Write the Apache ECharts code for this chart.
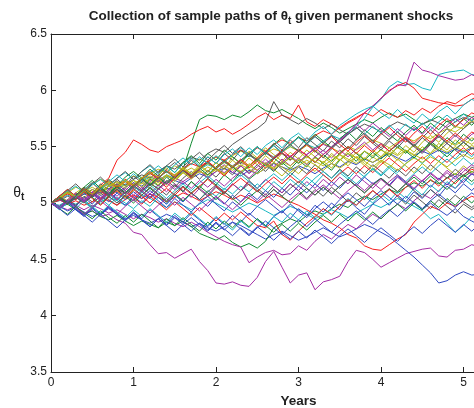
<!DOCTYPE html>
<html>
<head>
<meta charset="utf-8">
<script src="https://cdn.jsdelivr.net/npm/echarts@6/dist/echarts.min.js"></script>
<style>
  html, body { margin: 0; padding: 0; background: #fff; }
  #chart { width: 474px; height: 408px; }
</style>
</head>
<body>
<div id="chart"></div>
<script>
// time grid (years)
const years = [0,0.1,0.2,0.3,0.4,0.5,0.6,0.7,0.8,0.9,
  1.0,1.1,1.2,1.3,1.4,1.5,1.6,1.7,1.8,1.9,
  2.0,2.1,2.2,2.3,2.4,2.5,2.6,2.7,2.8,2.9,
  3.0,3.1,3.2,3.3,3.4,3.5,3.6,3.7,3.8,3.9,
  4.0,4.1,4.2,4.3,4.4,4.5,4.6,4.7,4.8,4.9,
  5.0,5.1,5.2]
const yTicks = [3.5,4,4.5,5,5.5,6,6.5]

// sample paths of theta
const p01 = [5.00,5.03,4.99,5.04,5.08,5.05,5.10,5.13,5.09,5.14, 5.18,5.15,5.21,5.19,5.24,5.20,5.17,5.22,5.26,5.23, 5.28,5.31,5.27,5.24,5.29,5.26,5.31,5.35,5.32,5.29, 5.33,5.30,5.26,5.31,5.35,5.32,5.37,5.34,5.39,5.36, 5.40,5.44,5.40,5.37,5.42,5.46,5.43,5.47,5.44,5.48, 5.45,5.49,5.46]
const p02 = [5.00,4.97,5.02,5.05,5.01,5.06,5.10,5.07,5.12,5.09, 5.14,5.11,5.17,5.13,5.19,5.24,5.30,5.53,5.74,5.78, 5.77,5.74,5.78,5.76,5.81,5.87,5.82,5.80,5.83,5.79, 5.75,5.70,5.66,5.71,5.67,5.62,5.66,5.70,5.74,5.71, 5.76,5.80,5.76,5.79,5.74,5.70,5.73,5.77,5.72,5.75, 5.79,5.76,5.80]
const p03 = [5.00,5.04,5.01,5.07,5.12,5.09,5.16,5.22,5.38,5.45, 5.56,5.52,5.47,5.45,5.50,5.53,5.56,5.61,5.65,5.68, 5.63,5.66,5.61,5.65,5.70,5.76,5.80,5.74,5.78,5.75, 5.87,5.72,5.68,5.74,5.70,5.66,5.71,5.75,5.80,5.77, 5.83,5.79,5.76,5.82,5.78,5.84,5.80,5.86,5.90,5.88, 5.93,5.97,5.95]
const p04 = [5.00,5.03,5.07,5.04,5.09,5.06,5.11,5.15,5.12,5.17, 5.14,5.19,5.23,5.20,5.25,5.22,5.28,5.25,5.30,5.34, 5.31,5.36,5.33,5.38,5.42,5.39,5.44,5.41,5.46,5.50, 5.47,5.52,5.49,5.55,5.60,5.57,5.63,5.68,5.75,5.85, 5.92,6.03,6.08,6.05,6.06,6.02,6.00,6.14,6.16,6.17, 6.18,6.14,6.13]
const p05 = [5.00,4.97,4.94,4.97,4.91,4.93,4.88,4.90,4.85,4.82, 4.74,4.72,4.63,4.55,4.56,4.51,4.55,4.59,4.48,4.40, 4.29,4.28,4.30,4.27,4.26,4.34,4.48,4.57,4.43,4.29, 4.36,4.38,4.23,4.30,4.32,4.35,4.48,4.58,4.56,4.50, 4.43,4.47,4.51,4.55,4.57,4.59,4.60,4.53,4.52,4.58, 4.59,4.63,4.61]
const p06 = [5.00,5.05,5.09,5.14,5.11,5.17,5.21,5.18,5.15,5.20, 5.24,5.21,5.26,5.30,5.27,5.33,5.29,5.35,5.39,5.36, 5.41,5.37,5.42,5.46,5.43,5.39,5.44,5.48,5.45,5.50, 5.46,5.51,5.48,5.53,5.49,5.45,5.50,5.47,5.52,5.56, 5.53,5.49,5.54,5.58,5.55,5.60,5.57,5.62,5.66,5.63, 5.68,5.72,5.75]
const p07 = [5.00,5.02,5.06,5.03,5.08,5.12,5.09,5.15,5.19,5.16, 5.21,5.25,5.22,5.28,5.33,5.30,5.36,5.41,5.38,5.44, 5.48,5.45,5.52,5.57,5.62,5.66,5.72,5.90,5.78,5.74, 5.70,5.75,5.71,5.66,5.70,5.65,5.61,5.66,5.70,5.67, 5.63,5.68,5.72,5.69,5.65,5.70,5.74,5.71,5.67,5.72, 5.76,5.73,5.78]
const p08 = [5.00,4.97,4.93,4.96,4.92,4.88,4.91,4.95,4.90,4.86, 4.89,4.85,4.82,4.86,4.90,4.87,4.83,4.79,4.82,4.78, 4.75,4.79,4.83,4.80,4.76,4.72,4.68,4.72,4.75,4.71, 4.67,4.70,4.74,4.78,4.74,4.70,4.73,4.77,4.81,4.78, 4.74,4.70,4.64,4.58,4.52,4.45,4.38,4.29,4.31,4.36, 4.39,4.36,4.37]
const p09 = [5.00,4.96,4.99,4.94,4.90,4.93,4.88,4.85,4.89,4.84, 4.80,4.84,4.81,4.78,4.83,4.80,4.84,4.79,4.73,4.70, 4.67,4.71,4.65,4.61,4.64,4.60,4.66,4.78,4.82,4.86, 4.83,4.89,4.93,4.90,4.95,4.99,4.96,5.02,5.06,5.03, 5.08,5.12,5.09,5.14,5.18,5.15,5.20,5.17,5.22,5.26, 5.23,5.28,5.25]
const p10 = [5.00,5.04,5.08,5.05,5.10,5.07,5.13,5.17,5.14,5.19, 5.16,5.22,5.26,5.23,5.28,5.25,5.31,5.35,5.32,5.37, 5.41,5.38,5.43,5.47,5.44,5.49,5.46,5.52,5.56,5.53, 5.58,5.55,5.60,5.64,5.61,5.67,5.72,5.76,5.80,5.86, 5.93,6.00,6.04,6.07,6.02,5.93,5.91,5.89,5.88,5.86, 5.87,5.92,5.96]
const p11 = [5.00,4.98,5.02,4.99,5.03,4.97,5.01,5.05,5.02,4.98, 5.03,5.07,5.04,5.00,4.96,5.01,4.98,4.94,4.99,5.03, 5.00,4.96,4.92,4.96,5.00,4.97,4.93,4.89,4.93,4.97, 4.94,4.90,4.86,4.90,4.94,4.91,4.87,4.91,4.95,4.99, 4.96,5.00,5.04,5.01,4.97,4.93,4.86,4.90,4.82,4.74, 4.80,4.88,4.84]
const p12 = [5.00,4.97,5.01,4.98,4.94,4.98,4.95,4.91,4.94,4.90, 4.86,4.90,4.87,4.83,4.86,4.82,4.79,4.83,4.79,4.74, 4.70,4.66,4.63,4.61,4.47,4.52,4.56,4.58,4.54,4.55, 4.62,4.58,4.66,4.72,4.68,4.75,4.81,4.77,4.84,4.90, 4.86,4.93,4.99,4.95,5.02,5.08,5.04,5.11,5.17,5.13, 5.20,5.26,5.22]
const p13 = [5.00,5.06,5.02,5.09,5.04,5.12,5.07,5.15,5.10,5.04, 5.11,5.18,5.13,5.22,5.16,5.25,5.31,5.24,5.33,5.27, 5.36,5.30,5.41,5.35,5.46,5.40,5.49,5.43,5.37,5.45, 5.39,5.47,5.41,5.35,5.44,5.38,5.46,5.40,5.33,5.41, 5.36,5.44,5.38,5.47,5.42,5.50,5.44,5.53,5.47,5.56, 5.50,5.58,5.53]
const p14 = [5.00,4.96,5.03,4.98,5.06,5.01,5.09,5.03,4.98,5.07, 5.02,5.10,5.04,5.13,5.07,5.16,5.10,5.19,5.12,5.06, 5.14,5.08,5.17,5.11,5.20,5.13,5.07,5.15,5.09,5.17, 5.11,5.04,5.12,5.06,5.14,5.08,5.01,5.09,5.03,5.11, 5.05,5.13,5.06,4.99,5.07,5.01,4.95,5.03,4.97,4.91, 4.99,4.94,5.00]
const p15 = [5.00,4.95,5.01,4.94,4.89,4.96,4.90,4.97,4.91,4.85, 4.92,4.86,4.94,4.88,4.81,4.89,4.83,4.91,4.85,4.79, 4.87,4.81,4.89,4.83,4.91,4.85,4.79,4.88,4.93,4.86, 4.95,4.89,4.98,4.92,5.00,4.94,5.03,4.96,4.90,4.99, 5.05,4.98,5.07,5.01,5.10,5.04,5.12,5.06,5.15,5.09, 5.17,5.11,5.19]
const p16 = [5.00,5.05,5.00,5.07,5.12,5.06,5.14,5.08,5.17,5.11, 5.18,5.12,5.21,5.15,5.23,5.17,5.10,5.19,5.13,5.22, 5.16,5.25,5.19,5.28,5.21,5.27,5.34,5.28,5.36,5.30, 5.38,5.32,5.41,5.35,5.29,5.38,5.44,5.37,5.46,5.40, 5.48,5.41,5.50,5.44,5.52,5.46,5.55,5.49,5.58,5.52, 5.61,5.55,5.63]
const p17 = [5.00,5.03,4.99,5.02,4.98,5.01,5.05,5.02,4.98,5.03, 5.07,5.04,5.08,5.05,5.01,5.05,5.09,5.06,5.02,5.06, 5.10,5.07,5.03,5.07,5.04,5.00,5.04,5.08,5.05,5.01, 4.98,4.94,4.90,4.85,4.82,4.78,4.72,4.69,4.62,4.59, 4.58,4.63,4.68,4.72,4.83,4.90,4.97,4.94,5.00,4.97, 5.02,5.06,5.03]
const p18 = [5.00,4.95,5.01,4.96,4.90,4.97,4.91,4.98,4.92,4.87, 4.94,4.88,4.95,4.89,4.83,4.91,4.85,4.92,4.86,4.80, 4.88,4.82,4.76,4.84,4.78,4.86,4.80,4.88,4.83,4.91, 4.85,4.93,4.87,4.95,4.89,4.97,5.04,4.98,5.06,5.00, 5.08,5.02,5.10,5.04,5.13,5.07,5.16,5.10,5.19,5.13, 5.22,5.16,5.25]
const p19 = [5.00,5.03,5.00,5.05,5.02,5.06,5.10,5.07,5.12,5.09, 5.14,5.11,5.16,5.20,5.17,5.22,5.19,5.24,5.28,5.25, 5.30,5.27,5.32,5.36,5.33,5.38,5.35,5.40,5.44,5.41, 5.46,5.43,5.48,5.52,5.49,5.55,5.62,5.70,5.80,5.86, 5.93,5.99,6.05,6.04,6.25,6.18,6.16,6.13,6.11,6.09, 6.10,6.14,6.10]
const p20 = [5.00,5.06,5.01,5.09,5.14,5.08,5.16,5.10,5.18,5.13, 5.20,5.14,5.22,5.16,5.25,5.19,5.27,5.21,5.29,5.23, 5.31,5.25,5.33,5.27,5.35,5.29,5.36,5.30,5.24,5.32, 5.26,5.34,5.28,5.37,5.31,5.39,5.33,5.41,5.35,5.29, 5.37,5.31,5.39,5.33,5.27,5.35,5.29,5.37,5.31,5.25, 5.33,5.27,5.34]
const p21 = [5.00,5.05,5.11,5.06,5.14,5.08,5.17,5.12,5.21,5.15, 5.24,5.18,5.27,5.21,5.30,5.36,5.29,5.38,5.32,5.41, 5.35,5.44,5.38,5.47,5.41,5.50,5.44,5.53,5.47,5.56, 5.49,5.58,5.52,5.46,5.55,5.49,5.57,5.51,5.59,5.53, 5.47,5.55,5.49,5.57,5.50,5.44,5.52,5.46,5.53,5.47, 5.41,5.49,5.44]
const p22 = [5.00,5.05,4.99,5.07,5.01,5.09,5.03,5.10,5.04,4.98, 5.06,5.00,5.08,5.02,4.96,5.04,4.98,4.92,5.00,5.06, 4.99,4.93,5.01,4.95,4.89,4.97,5.03,4.97,4.91,4.99, 4.93,4.87,4.95,5.01,4.95,5.03,5.09,5.03,4.97,5.05, 5.11,5.05,4.99,5.06,5.00,4.94,5.00,4.94,4.89,4.95, 4.88,4.84,4.80]
const p23 = [5.00,5.06,5.12,5.06,5.14,5.20,5.13,5.21,5.15,5.23, 5.28,5.22,5.30,5.24,5.33,5.27,5.36,5.42,5.35,5.44, 5.38,5.47,5.41,5.35,5.44,5.50,5.43,5.52,5.58,5.51, 5.59,5.53,5.61,5.55,5.49,5.57,5.63,5.56,5.65,5.59, 5.67,5.61,5.55,5.63,5.69,5.62,5.71,5.65,5.73,5.67, 5.75,5.69,5.77]
const p24 = [5.00,4.95,5.01,5.07,5.01,4.96,5.03,5.09,5.03,5.10, 5.05,4.99,5.06,5.00,4.94,5.01,4.95,4.89,4.96,4.90, 4.84,4.91,4.85,4.92,4.86,4.80,4.78,4.84,4.72,4.67, 4.75,4.82,4.88,4.95,4.90,4.97,5.03,4.98,5.05,5.11, 5.05,5.12,5.06,5.14,5.20,5.13,5.21,5.15,5.23,5.17, 5.25,5.30,5.27]
const p25 = [5.00,4.94,5.00,4.95,5.02,4.96,5.04,4.98,5.05,5.00, 4.95,5.02,4.97,5.05,4.99,5.07,5.01,5.09,5.03,5.11, 5.06,5.13,5.08,5.15,5.10,5.17,5.11,5.19,5.13,5.21, 5.15,5.23,5.17,5.25,5.19,5.27,5.21,5.29,5.23,5.31, 5.25,5.33,5.27,5.35,5.41,5.35,5.43,5.37,5.45,5.39, 5.47,5.41,5.50]
const p26 = [5.00,5.06,5.01,5.08,5.02,5.10,5.04,5.12,5.06,5.13, 5.07,5.14,5.08,5.16,5.10,5.17,5.11,5.05,5.13,5.07, 5.15,5.09,5.17,5.11,5.19,5.13,5.21,5.15,5.09,5.17, 5.11,5.19,5.13,5.21,5.15,5.23,5.17,5.25,5.19,5.13, 5.21,5.15,5.23,5.17,5.25,5.19,5.27,5.21,5.29,5.23, 5.31,5.25,5.33]
const p27 = [5.00,5.05,5.11,5.05,5.12,5.18,5.11,5.19,5.13,5.21, 5.15,5.23,5.17,5.25,5.31,5.24,5.32,5.26,5.34,5.28, 5.36,5.30,5.38,5.32,5.40,5.34,5.42,5.36,5.44,5.38, 5.46,5.40,5.47,5.41,5.35,5.43,5.37,5.45,5.39,5.47, 5.41,5.49,5.43,5.51,5.45,5.54,5.60,5.54,5.62,5.68, 5.66,5.74,5.79]
const p28 = [5.00,5.04,5.10,5.04,5.11,5.05,5.13,5.07,5.15,5.09, 5.16,5.10,5.18,5.12,5.20,5.14,5.22,5.28,5.21,5.29, 5.23,5.31,5.25,5.33,5.27,5.34,5.28,5.36,5.30,5.24, 5.32,5.26,5.34,5.28,5.22,5.30,5.24,5.32,5.26,5.34, 5.28,5.22,5.30,5.24,5.32,5.26,5.34,5.28,5.22,5.30, 5.24,5.32,5.28]
const p29 = [5.00,4.96,5.02,4.97,5.05,4.99,5.07,5.01,5.09,5.03, 5.10,5.04,5.11,5.05,4.99,5.07,5.01,5.09,5.03,4.97, 5.05,4.99,5.07,5.01,5.09,5.03,5.11,5.05,5.13,5.07, 5.15,5.09,5.17,5.11,5.19,5.13,5.21,5.15,5.23,5.17, 5.22,5.16,5.24,5.18,5.12,5.20,5.14,5.22,5.16,5.24, 5.18,5.26,5.21]
const p30 = [5.00,4.95,4.90,4.97,4.91,4.86,4.93,4.87,4.82,4.89, 4.83,4.90,4.84,4.78,4.86,4.80,4.87,4.81,4.75,4.83, 4.77,4.84,4.78,4.85,4.79,4.86,4.80,4.74,4.81,4.75, 4.82,4.76,4.83,4.89,4.83,4.90,4.84,4.91,4.85,4.92, 4.86,4.93,4.99,4.93,5.00,4.94,5.02,4.96,5.04,4.98, 5.06,5.00,5.08]
const p31 = [5.00,5.05,5.11,5.05,5.12,5.18,5.11,5.05,5.13,5.19, 5.13,5.21,5.27,5.20,5.14,5.22,5.29,5.22,5.30,5.37, 5.30,5.24,5.32,5.38,5.31,5.37,5.31,5.39,5.45,5.38, 5.46,5.52,5.45,5.53,5.59,5.52,5.46,5.54,5.60,5.53, 5.61,5.67,5.60,5.54,5.62,5.68,5.61,5.69,5.75,5.68, 5.74,5.80,5.77]
const p32 = [5.00,5.04,5.10,5.15,5.09,5.16,5.21,5.15,5.22,5.27, 5.21,5.28,5.33,5.26,5.33,5.27,5.35,5.40,5.33,5.41, 5.35,5.43,5.48,5.41,5.49,5.43,5.51,5.56,5.49,5.57, 5.62,5.55,5.63,5.68,5.61,5.69,5.74,5.79,5.83,5.86, 5.80,5.75,5.83,5.76,5.71,5.79,5.73,5.81,5.86,5.79, 5.87,5.92,5.89]
const p33 = [5.00,4.96,5.03,5.09,5.03,5.10,5.04,5.12,5.17,5.11, 5.18,5.12,5.19,5.25,5.18,5.24,5.30,5.23,5.29,5.22, 5.28,5.34,5.27,5.33,5.26,5.32,5.39,5.32,5.39,5.33, 5.40,5.34,5.41,5.47,5.40,5.47,5.41,5.48,5.54,5.47, 5.53,5.46,5.52,5.58,5.51,5.45,5.53,5.60,5.53,5.60, 5.54,5.61,5.64]
const p34 = [5.00,5.04,5.09,5.05,5.10,5.14,5.10,5.15,5.19,5.15, 5.20,5.17,5.22,5.18,5.24,5.21,5.27,5.23,5.28,5.25, 5.30,5.26,5.32,5.28,5.33,5.29,5.35,5.31,5.37,5.33, 5.39,5.35,5.40,5.36,5.42,5.38,5.44,5.40,5.46,5.42, 5.47,5.43,5.49,5.45,5.51,5.47,5.53,5.49,5.55,5.51, 5.56,5.52,5.58]
const p35 = [5.00,5.05,5.11,5.17,5.10,5.17,5.23,5.16,5.22,5.28, 5.21,5.28,5.34,5.27,5.33,5.39,5.32,5.39,5.45,5.38, 5.45,5.51,5.44,5.50,5.43,5.37,5.45,5.51,5.44,5.38, 5.46,5.53,5.46,5.40,5.48,5.55,5.48,5.56,5.62,5.55, 5.49,5.57,5.63,5.56,5.50,5.58,5.65,5.58,5.66,5.59, 5.66,5.72,5.68]
const p36 = [5.00,4.95,4.89,4.95,4.89,4.83,4.90,4.84,4.78,4.85, 4.91,4.85,4.79,4.86,4.80,4.74,4.81,4.87,4.81,4.75, 4.82,4.76,4.83,4.77,4.71,4.78,4.84,4.78,4.72,4.79, 4.85,4.79,4.86,4.80,4.74,4.81,4.87,4.93,4.87,4.81, 4.88,4.94,4.88,4.95,5.01,4.95,5.02,5.08,5.02,4.96, 5.03,5.09,5.04]
const p37 = [5.00,5.05,4.99,5.05,5.11,5.05,4.99,5.06,5.12,5.06, 5.00,5.07,5.13,5.07,5.01,5.08,5.02,5.09,5.15,5.09, 5.03,5.10,5.04,4.98,5.05,5.11,5.05,5.12,5.06,5.00, 5.07,5.13,5.07,5.14,5.08,5.15,5.21,5.15,5.09,5.16, 5.22,5.16,5.10,5.17,5.23,5.17,5.24,5.18,5.12,5.19, 5.25,5.19,5.26]
const p38 = [5.00,5.03,5.09,5.03,5.10,5.04,4.98,5.05,5.11,5.05, 5.12,5.06,5.00,5.07,5.13,5.07,5.14,5.08,5.15,5.21, 5.15,5.09,5.16,5.22,5.16,5.10,5.17,5.23,5.17,5.24, 5.18,5.25,5.31,5.25,5.19,5.26,5.32,5.26,5.33,5.27, 5.34,5.40,5.34,5.28,5.35,5.41,5.35,5.42,5.36,5.43, 5.49,5.43,5.50]
const p39 = [5.00,4.96,5.01,5.07,5.01,4.95,5.02,5.08,5.02,5.09, 5.15,5.09,5.16,5.10,5.04,5.11,5.17,5.11,5.18,5.24, 5.18,5.12,5.19,5.25,5.19,5.13,5.20,5.26,5.20,5.27, 5.21,5.15,5.22,5.28,5.22,5.29,5.23,5.17,5.24,5.30, 5.24,5.31,5.25,5.19,5.26,5.32,5.26,5.33,5.39,5.33, 5.40,5.34,5.41]
const p40 = [5.00,4.95,5.01,4.96,4.90,4.96,5.02,4.96,4.90,4.97, 5.03,4.97,4.91,4.98,5.04,4.98,5.05,4.99,4.93,5.00, 5.06,5.00,4.94,5.01,5.07,5.01,5.08,5.02,4.96,5.03, 5.09,5.03,5.10,5.16,5.10,5.04,5.11,5.17,5.11,5.18, 5.12,5.19,5.25,5.19,5.13,5.20,5.26,5.20,5.27,5.21, 5.28,5.34,5.29]
const p41 = [5.00,5.04,5.09,5.05,5.11,5.07,5.13,5.17,5.13,5.19, 5.15,5.20,5.24,5.20,5.25,5.21,5.27,5.31,5.27,5.32, 5.28,5.33,5.29,5.34,5.30,5.26,5.31,5.36,5.32,5.27, 5.33,5.38,5.34,5.29,5.35,5.31,5.36,5.41,5.37,5.32, 5.38,5.34,5.29,5.35,5.40,5.36,5.41,5.37,5.32,5.38, 5.43,5.39,5.44]
const p42 = [5.00,5.04,4.99,5.05,5.00,5.06,5.12,5.06,5.00,5.07, 5.13,5.07,5.14,5.08,5.02,5.09,5.15,5.09,5.03,5.10, 5.16,5.10,5.04,5.11,5.17,5.11,5.05,5.12,5.06,5.13, 5.19,5.13,5.07,5.14,5.08,5.15,5.21,5.15,5.09,5.16, 5.22,5.16,5.10,5.17,5.11,5.05,5.12,5.06,5.00,5.07, 5.01,4.96,5.02]
const p43 = [5.00,4.95,5.01,4.94,4.88,4.95,4.89,4.96,4.90,4.84, 4.91,4.85,4.79,4.86,4.80,4.87,4.81,4.75,4.82,4.76, 4.83,4.77,4.71,4.78,4.72,4.79,4.73,4.67,4.74,4.68, 4.75,4.69,4.76,4.70,4.64,4.71,4.77,4.71,4.65,4.72, 4.78,4.72,4.66,4.73,4.79,4.73,4.80,4.86,4.80,4.74, 4.81,4.75,4.82]
const p44 = [5.00,5.06,5.00,5.07,5.13,5.07,5.14,5.08,5.15,5.09, 5.16,5.22,5.16,5.23,5.17,5.24,5.30,5.24,5.31,5.25, 5.32,5.38,5.32,5.26,5.33,5.39,5.33,5.40,5.34,5.41, 5.35,5.42,5.36,5.43,5.37,5.44,5.50,5.44,5.38,5.45, 5.39,5.46,5.52,5.46,5.40,5.47,5.53,5.47,5.41,5.48, 5.54,5.48,5.51]
const p45 = [5.00,5.06,5.12,5.06,5.13,5.07,5.14,5.20,5.14,5.21, 5.15,5.22,5.28,5.22,5.29,5.23,5.30,5.24,5.31,5.37, 5.31,5.38,5.32,5.39,5.33,5.40,5.46,5.40,5.47,5.41, 5.48,5.42,5.36,5.43,5.49,5.43,5.50,5.44,5.51,5.45, 5.52,5.46,5.53,5.59,5.53,5.60,5.54,5.61,5.55,5.62, 5.56,5.63,5.60]
const p46 = [5.00,5.05,5.11,5.05,5.12,5.18,5.12,5.19,5.25,5.19, 5.26,5.20,5.27,5.33,5.27,5.34,5.40,5.34,5.41,5.35, 5.42,5.36,5.43,5.49,5.43,5.50,5.44,5.51,5.45,5.52, 5.58,5.52,5.59,5.53,5.60,5.54,5.61,5.67,5.61,5.68, 5.62,5.69,5.63,5.70,5.64,5.71,5.65,5.72,5.78,5.72, 5.79,5.73,5.80]
const p47 = [5.00,4.95,5.01,5.07,5.01,5.08,5.02,5.09,5.03,5.10, 5.04,5.11,5.05,5.12,5.18,5.12,5.19,5.13,5.20,5.14, 5.21,5.15,5.22,5.28,5.22,5.29,5.35,5.29,5.36,5.42, 5.36,5.43,5.49,5.43,5.50,5.56,5.62,5.70,5.64,5.71, 5.65,5.59,5.66,5.60,5.67,5.61,5.68,5.62,5.69,5.75, 5.69,5.76,5.72]
const p48 = [5.00,5.05,5.10,5.06,5.12,5.08,5.14,5.19,5.15,5.20, 5.16,5.22,5.27,5.23,5.28,5.24,5.30,5.26,5.31,5.35, 5.31,5.36,5.32,5.37,5.33,5.38,5.34,5.30,5.35,5.40, 5.36,5.41,5.37,5.33,5.38,5.43,5.39,5.35,5.40,5.36, 5.41,5.46,5.42,5.47,5.43,5.39,5.44,5.49,5.45,5.50, 5.46,5.51,5.48]
const p49 = [5.00,5.05,4.99,5.06,5.12,5.06,5.13,5.07,5.14,5.08, 5.15,5.21,5.15,5.22,5.28,5.22,5.29,5.23,5.30,5.36, 5.30,5.37,5.31,5.38,5.44,5.38,5.45,5.39,5.46,5.52, 5.46,5.53,5.59,5.53,5.60,5.54,5.61,5.67,5.61,5.55, 5.62,5.56,5.63,5.57,5.51,5.58,5.52,5.59,5.53,5.47, 5.54,5.48,5.52]

const paths = [p01,p02,p03,p04,p05,p06,p07,p08,p09,p10,p11,p12,p13,p14,
  p15,p16,p17,p18,p19,p20,p21,p22,p23,p24,p25,p26,p27,p28,
  p29,p30,p31,p32,p33,p34,p35,p36,p37,p38,p39,p40,p41,p42,
  p43,p44,p45,p46,p47,p48,p49]

// matlab-like line colour order: b g r c m y k
const lineColors = ['#3048c0', '#128a32', '#f51c1c', '#18b6c2', '#a42ca4', '#b9b919', '#585858']

const myChart = echarts.init(document.getElementById('chart'), null, { renderer: 'canvas' })

const series = paths.map((vals, i) => {
  return {
    type: 'line',
    data: vals.map((v, j) => [years[j], v]),
    showSymbol: false,
    symbol: 'none',
    lineStyle: { width: 1, color: lineColors[i % lineColors.length] },
    emphasis: { disabled: true },
    animation: false,
    silent: true
  }
})

const font = 'Liberation Sans, Arial, Helvetica, sans-serif'

const option = {
  backgroundColor: '#fff',
  animation: false,
  title: {
    text: '{a|Collection of sample paths of θ}{s|t}{a| given permanent shocks}',
    left: 266,
    top: 2,
    textAlign: 'center',
    textStyle: {
      rich: {
        a: { fontFamily: font, fontSize: 13.5, fontWeight: 'bold', color: '#222' },
        s: { fontFamily: font, fontSize: 10, fontWeight: 'bold', color: '#222', padding: [9, 0, 0, 0] }
      }
    }
  },
  // the plot runs on past the right edge of the picture (x up to 6)
  grid: { left: 51, right: -72, top: 34, bottom: 36, outerBoundsMode: 'none' },
  xAxis: [{
    type: 'value',
    min: 0,
    max: 6,
    interval: 1,
    name: 'Years',
    nameLocation: 'middle',
    nameGap: 20,
    nameTextStyle: { fontFamily: font, fontSize: 13.5, fontWeight: 'bold', color: '#222' },
    axisLine: { lineStyle: { color: '#222', width: 1 } },
    axisTick: { inside: true, length: 5, lineStyle: { color: '#222' } },
    axisLabel: { fontFamily: font, fontSize: 12, color: '#222', margin: 5 },
    splitLine: { show: false }
  }, {
    type: 'value',
    position: 'top',
    min: 0,
    max: 6,
    interval: 1,
    axisLine: { show: true, lineStyle: { color: '#222', width: 1 } },
    axisTick: { inside: true, length: 5, lineStyle: { color: '#222' } },
    axisLabel: { show: false },
    splitLine: { show: false }
  }],
  yAxis: {
    type: 'value',
    min: yTicks[0],
    max: yTicks[yTicks.length - 1],
    interval: 0.5,
    name: '{a|θ}{s|t}',
    nameLocation: 'middle',
    nameRotate: 0,
    nameGap: 26,
    nameTextStyle: {
      padding: [0, 0, 20, 0],
      rich: {
        a: { fontFamily: font, fontSize: 14, color: '#222' },
        s: { fontFamily: font, fontSize: 10, fontWeight: 'bold', color: '#222', padding: [8, 0, 0, 0] }
      }
    },
    axisLine: { show: true, lineStyle: { color: '#222', width: 1 } },
    axisTick: { show: true, inside: true, length: 5, lineStyle: { color: '#222' } },
    axisLabel: { fontFamily: font, fontSize: 12, color: '#222', margin: 4 },
    splitLine: { show: false }
  },
  series: series
}

myChart.setOption(option)
</script>
</body>
</html>
